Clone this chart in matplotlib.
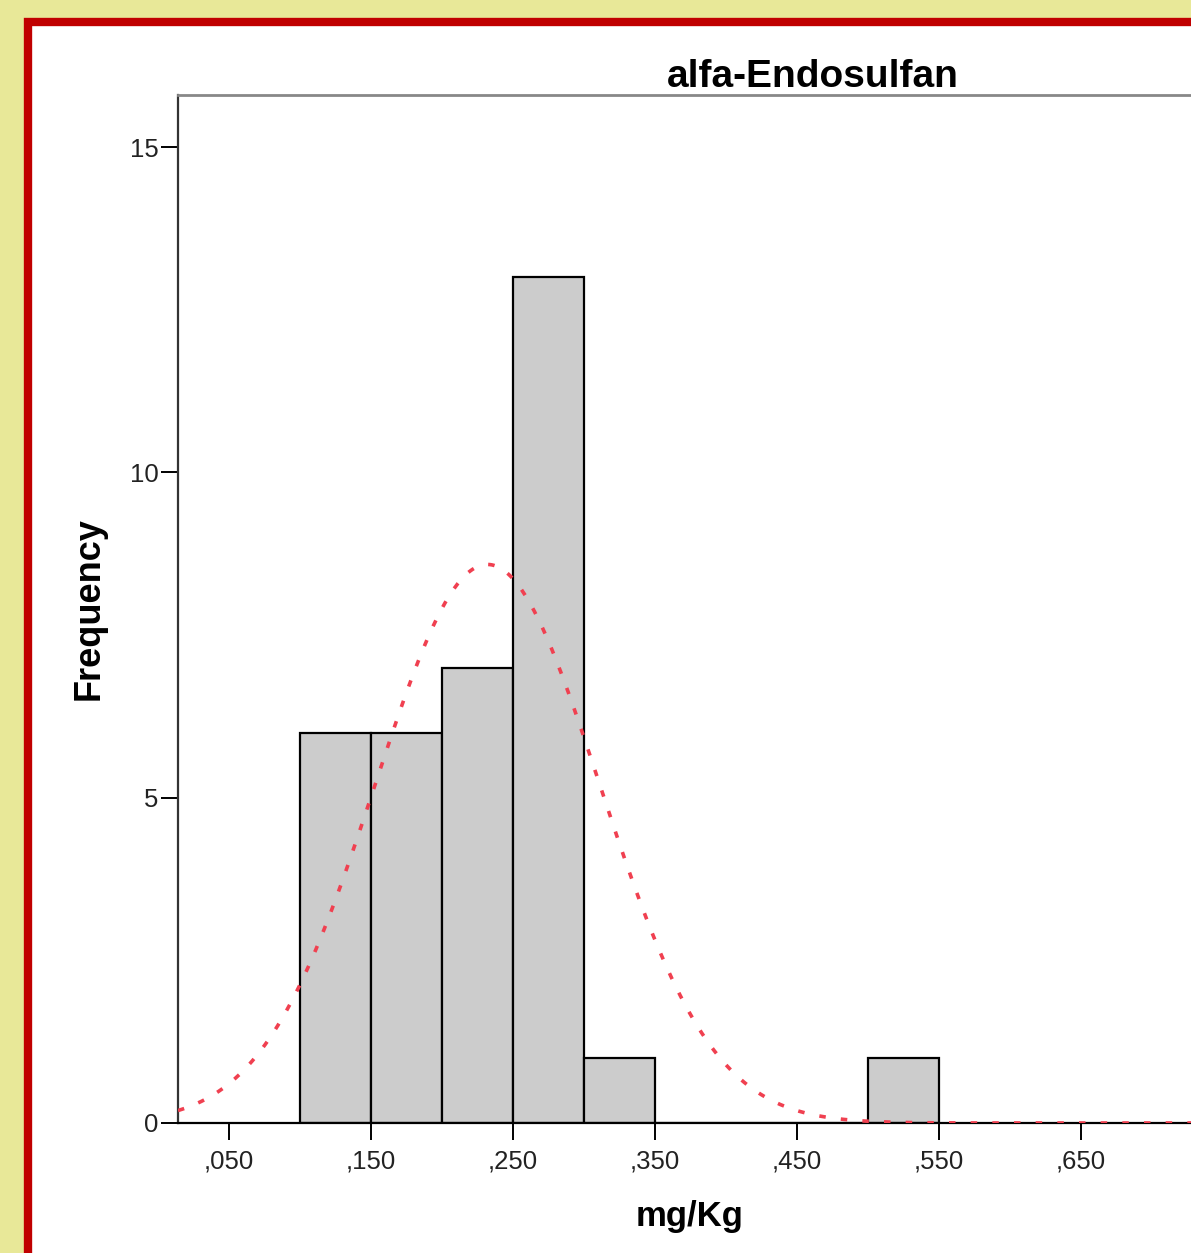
import numpy as np
import matplotlib.pyplot as plt
from matplotlib.patches import Rectangle
from matplotlib.ticker import FixedLocator, FuncFormatter

# datos del histograma (limites de los intervalos y frecuencias)
bordes = [0.10, 0.15, 0.20, 0.25, 0.30, 0.35, 0.40, 0.45, 0.50, 0.55]
frecuencias = [6, 6, 7, 13, 1, 0, 0, 0, 1]

# parametros de la curva normal ajustada
media = 0.232
desviacion = 0.079
n_total = 34
ancho_bin = 0.05

titulo = "alfa-Endosulfan"
etiqueta_x = "mg/Kg"
etiqueta_y = "Frequency"
# solo los ticks que se ven en la imagen
ticks_x = [0.05, 0.15, 0.25, 0.35, 0.45, 0.55, 0.65]
ticks_y = [0, 5, 10, 15]

plt.rcParams['font.family'] = ['Liberation Sans', 'DejaVu Sans']

fig = plt.figure(figsize=(11.91, 12.53), dpi=100)
fig.patch.set_facecolor("#E8E898")

# marco rojo con fondo blanco (sale por la derecha y por abajo)
W, H = 1191, 1253
fig.add_artist(Rectangle((28 / W, -0.2), 1.3, 1 - 22 / H + 0.2,
                         transform=fig.transFigure, facecolor="white",
                         edgecolor="#C00000", linewidth=6.0, zorder=0))

# el eje se sale del lienzo por la derecha
ax = fig.add_axes([178 / W, 130 / H, 1270 / W, 1028 / H])
ax.set_facecolor("white")

ax.hist(bordes[:-1], bins=bordes, weights=frecuencias, color="#CCCCCC",
        edgecolor="black", linewidth=1.6, zorder=2)

ax.set_xlim(0.0141, 0.9085)
ax.set_ylim(0, 15.8)

xs = np.linspace(0.0141, 0.9085, 600)
ys = n_total * ancho_bin / (desviacion * np.sqrt(2 * np.pi)) * np.exp(-0.5 * ((xs - media) / desviacion) ** 2)
ax.plot(xs, ys, color="#F04050", linewidth=2.6, linestyle=(0, (1.8, 4.2)), zorder=3)

ax.xaxis.set_major_locator(FixedLocator(ticks_x))
ax.yaxis.set_major_locator(FixedLocator(ticks_y))
ax.xaxis.set_major_formatter(FuncFormatter(lambda v, p: "," + f"{v:.3f}".split(".")[1]))
ax.tick_params(axis="both", direction="out", length=12, width=1.4, labelsize=18.5,
               color="black", labelcolor="#222222")
ax.tick_params(axis="y", pad=2)
ax.tick_params(axis="x", pad=7)

ax.spines["top"].set_color("#888888")
ax.spines["top"].set_linewidth(2)
ax.spines["left"].set_color("#333333")
ax.spines["left"].set_linewidth(1.6)
ax.spines["bottom"].set_color("black")
ax.spines["bottom"].set_linewidth(1.6)
ax.spines["right"].set_visible(False)

ax.set_title(titulo, fontsize=28, fontweight="bold", pad=4)
ax.set_xlabel(etiqueta_x, fontsize=25, fontweight="bold")
ax.set_ylabel(etiqueta_y, fontsize=26, fontweight="bold")
ax.xaxis.set_label_coords((690 - 178) / 1270, -(1200 - 1123) / 1028)
ax.yaxis.set_label_coords(-(178 - 107) / 1270, 0.5)

fig.savefig("out.png", dpi=100, facecolor=fig.get_facecolor())
